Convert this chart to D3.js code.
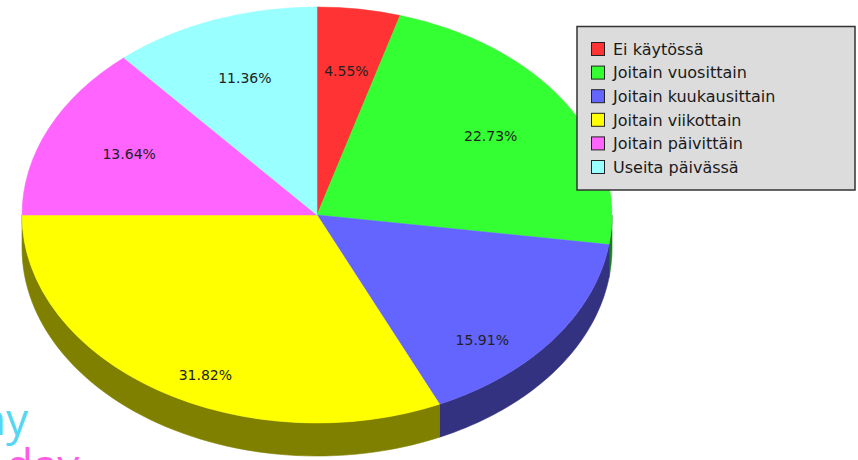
<!DOCTYPE html>
<html>
<head>
<meta charset="utf-8">
<script src="https://cdn.jsdelivr.net/npm/d3@7"></script>
<style>
  html, body { margin: 0; padding: 0; background: #fff; }
  svg { display: block; }
</style>
</head>
<body>
<svg id="chart" width="858" height="460"></svg>
<script>
// Data (44 answers in total)
const categories = ["Ei käytössä", "Joitain vuosittain", "Joitain kuukausittain",
                    "Joitain viikottain", "Joitain päivittäin", "Useita päivässä"];
const counts = [2, 10, 7, 14, 6, 5];
const colors = ["#ff3333", "#33ff33", "#6464ff", "#ffff00", "#ff64ff", "#99ffff"];

// Layout
const width = 858, height = 460;
const cx = 317, cy = 215;       // centre of the top ellipse
const rx = 295, ry = 208;       // ellipse radii
const depth = 33;               // thickness of the 3D pie
const labelFrac = 0.7;          // labels sit at 70% of the radius

const svg = d3.select('#chart');
const total = d3.sum(counts);
const fmt = d3.format('.2%');

const pie = d3.pie().sort(null).value(d => d.value);
const slices = pie(categories.map((c, i) => ({ name: c, value: counts[i], color: colors[i] })));

// point on ellipse for d3.pie angle (0 = 12 o'clock, clockwise)
function pt(a, dy) {
  return [cx + rx * Math.sin(a), cy - ry * Math.cos(a) + (dy || 0)];
}

function halfColor(c) {
  const rgb = d3.rgb(c);
  return d3.rgb(rgb.r * 0.5, rgb.g * 0.5, rgb.b * 0.5).formatHex();
}

// Side walls (only the front half of the ellipse is visible)
const walls = svg.append('g');
slices.forEach(s => {
  const s0 = Math.max(s.startAngle, Math.PI / 2);
  const s1 = Math.min(s.endAngle, Math.PI * 1.5);
  if (s0 >= s1) return;
  const steps = d3.range(0, 61).map(i => s0 + (s1 - s0) * i / 60);
  const top = steps.map(a => pt(a));
  const bottom = steps.slice().reverse().map(a => pt(a, depth));
  walls.append('path')
    .attr('d', d3.line()(top.concat(bottom)) + 'Z')
    .attr('fill', halfColor(s.data.color))
    .attr('stroke', halfColor(s.data.color))
    .attr('stroke-width', 0.6);
});

// Top faces: circular arcs squashed into an ellipse
const arc = d3.arc().innerRadius(0).outerRadius(rx);
svg.append('g')
  .attr('transform', `translate(${cx},${cy}) scale(1,${ry / rx})`)
  .selectAll('path')
  .data(slices)
  .enter()
  .append('path')
  .attr('d', arc)
  .attr('fill', d => d.data.color)
  .attr('stroke', d => d.data.color)
  .attr('stroke-width', 0.6);

// Percentage labels
svg.append('g')
  .selectAll('text')
  .data(slices)
  .enter()
  .append('text')
  .attr('x', d => {
    const m = (d.startAngle + d.endAngle) / 2;
    return cx + rx * labelFrac * Math.sin(m);
  })
  .attr('y', d => {
    const m = (d.startAngle + d.endAngle) / 2;
    const drop = Math.cos(m) < 0 ? depth + 5 : 0;
    return cy - ry * labelFrac * Math.cos(m) + drop;
  })
  .attr('dy', '0.35em')
  .attr('text-anchor', 'middle')
  .style('font-family', '"DejaVu Sans", sans-serif')
  .style('font-size', '14px')
  .attr('fill', '#222')
  .text(d => fmt(d.data.value / total));

// Legend
const legend = svg.append('g');
legend.append('rect')
  .attr('x', 577).attr('y', 26.5)
  .attr('width', 278).attr('height', 163.5)
  .attr('fill', '#dcdcdc')
  .attr('stroke', '#333')
  .attr('stroke-width', 1.5);

const rowY = d3.scalePoint().domain(categories).range([49, 167]);
const items = legend.selectAll('g.item')
  .data(slices)
  .enter()
  .append('g')
  .attr('class', 'item')
  .attr('transform', d => `translate(591,${rowY(d.data.name)})`);

items.append('rect')
  .attr('x', 0.5).attr('y', -6.5)
  .attr('width', 13).attr('height', 13)
  .attr('fill', d => d.data.color)
  .attr('stroke', '#222')
  .attr('stroke-width', 1);

items.append('text')
  .attr('x', 22)
  .attr('dy', '0.36em')
  .style('font-family', '"DejaVu Sans", sans-serif')
  .style('font-size', '16px')
  .attr('fill', '#1a1a1a')
  .text(d => d.data.name);

// Stray overlay text cut off at the lower left edge
svg.append('text')
  .attr('x', 28).attr('y', 435)
  .attr('text-anchor', 'end')
  .style('font-family', '"Open Sans", sans-serif')
  .style('font-size', '44px')
  .attr('fill', '#55d6f2')
  .text('ny');

svg.append('text')
  .attr('x', 6).attr('y', 481)
  .style('font-family', '"Open Sans", sans-serif')
  .style('font-size', '44px')
  .attr('fill', '#ff5ce6')
  .text('day');
</script>
</body>
</html>
